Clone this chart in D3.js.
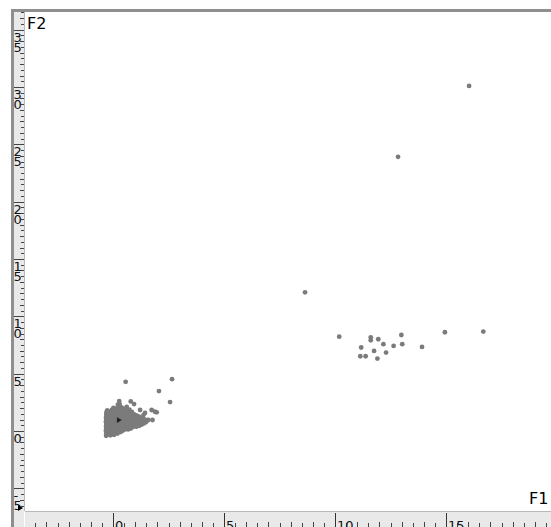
<!DOCTYPE html>
<html>
<head>
<meta charset="utf-8">
<script src="https://cdn.jsdelivr.net/npm/d3@7/dist/d3.min.js"></script>
<style>
  html, body { margin: 0; padding: 0; background: #fff; }
  svg { display: block; }
  text { font-family: "DejaVu Sans", sans-serif; }
</style>
</head>
<body>
<script>
// Scores on the first two factors (F1, F2)
// Dense group near the origin
const coreGroup = [
  [-0.31,-0.42],[-0.12,-0.38],[0.05,-0.33],
  [-0.30,-0.20],[-0.08,-0.18],[0.12,-0.15],[0.31,-0.10],
  [-0.32,0.02],[-0.10,0.00],[0.10,0.03],[0.29,0.05],[0.50,0.10],[0.68,0.14],
  [-0.30,0.22],[-0.11,0.20],[0.09,0.24],[0.30,0.21],[0.48,0.27],[0.70,0.30],[0.88,0.33],[1.05,0.38],
  [-0.31,0.41],[-0.10,0.43],[0.11,0.40],[0.30,0.44],[0.52,0.42],[0.70,0.47],[0.90,0.50],[1.10,0.52],[1.28,0.55],
  [-0.30,0.62],[-0.09,0.60],[0.10,0.63],[0.31,0.60],[0.50,0.64],[0.71,0.62],[0.90,0.68],[1.10,0.70],[1.30,0.72],[1.48,0.76],
  [-0.32,0.80],[-0.10,0.82],[0.12,0.79],[0.30,0.83],[0.49,0.80],[0.70,0.84],[0.91,0.82],[1.12,0.86],[1.32,0.90],[1.55,0.95],
  [-0.30,1.02],[-0.11,1.00],[0.10,1.03],[0.32,1.00],[0.50,1.04],[0.69,1.01],[0.90,1.05],[1.10,1.08],[1.30,1.10],
  [-0.31,1.21],[-0.10,1.20],[0.11,1.23],[0.30,1.20],[0.51,1.22],[0.70,1.25],[0.92,1.24],[1.15,1.28],
  [-0.30,1.42],[-0.09,1.40],[0.10,1.43],[0.31,1.41],[0.50,1.44],[0.72,1.40],[0.95,1.45],[1.37,1.39],
  [-0.30,1.60],[-0.10,1.63],[0.12,1.60],[0.30,1.62],[0.50,1.65],[0.70,1.60],[0.85,1.66],
  [-0.26,1.80],[-0.05,1.84],[0.15,1.80],[0.33,1.85],[0.55,1.82],[0.74,1.86],
  [0.02,2.02],[0.20,2.00],[0.38,2.05],[0.62,2.10],
  [0.22,2.30],[0.30,2.35],[0.28,2.61],[0.80,2.58],[0.95,2.35],
  [1.22,1.83],[1.44,1.57],[1.74,1.83],[1.89,1.68],[1.59,0.96],[1.78,0.96],[1.97,1.63],
  [0.57,4.29],[2.66,4.52],[2.07,3.48],[2.57,2.52]
];
// More observations inside the dense group
const coreGroupInner = [
  [-0.20,-0.30],[0.00,-0.27],[0.20,-0.22],
  [-0.20,-0.10],[0.00,-0.08],[0.20,-0.05],[0.40,-0.02],
  [-0.20,0.10],[0.00,0.12],[0.20,0.10],[0.40,0.14],[0.60,0.18],[0.80,0.22],
  [-0.20,0.31],[0.00,0.30],[0.20,0.33],[0.40,0.30],[0.60,0.35],[0.80,0.38],[1.00,0.42],[1.18,0.46],
  [-0.20,0.50],[0.00,0.52],[0.20,0.50],[0.40,0.53],[0.60,0.51],[0.80,0.56],[1.00,0.60],[1.20,0.62],[1.38,0.65],
  [-0.20,0.70],[0.00,0.72],[0.20,0.70],[0.40,0.73],[0.60,0.71],[0.80,0.75],[1.00,0.76],[1.20,0.80],[1.40,0.84],
  [-0.20,0.91],[0.00,0.90],[0.20,0.92],[0.40,0.90],[0.60,0.93],[0.80,0.92],[1.00,0.95],[1.20,0.98],[1.42,1.02],
  [-0.20,1.10],[0.00,1.12],[0.20,1.10],[0.40,1.13],[0.60,1.11],[0.80,1.14],[1.00,1.16],[1.22,1.19],
  [-0.20,1.31],[0.00,1.30],[0.20,1.33],[0.40,1.30],[0.60,1.32],[0.80,1.35],[1.05,1.36],
  [-0.20,1.50],[0.00,1.52],[0.20,1.50],[0.40,1.53],[0.60,1.51],[0.80,1.55],
  [-0.20,1.70],[0.00,1.72],[0.20,1.70],[0.40,1.73],[0.62,1.71],
  [0.08,1.92],[0.28,1.93],[0.48,1.95]
];
// Second group
const sideGroup = [
  [10.19,8.23],[11.61,8.17],[11.61,7.91],[11.95,8.00],[12.99,8.37],[14.95,8.61],[16.68,8.67],
  [11.18,7.28],[12.18,7.57],[12.64,7.42],[13.03,7.57],[13.92,7.33],[11.76,6.98],[12.30,6.84],
  [11.14,6.52],[11.38,6.52],[11.91,6.32]
];
// Isolated observations
const isolated = [[8.65,12.09],[12.84,23.91],[16.04,30.09]];
// Pointer position inside the dense group
const pointer = [[0.25,0.95]];

const xTickLabels = ["0","5","10","15"];
const yTickLabels = ["-5","0","5","10","15","20","25","30","35"];
const axisNames = { x: "F1", y: "F2" };

const W = 551, H = 527;
const plot = { left: 25, top: 12, right: 551, bottom: 511 };

const x = d3.scaleLinear().domain([0, 15]).range([113, 446]);
const y = d3.scaleLinear().domain([0, 30]).range([431, 87]);

const svg = d3.select("body").append("svg").attr("width", W).attr("height", H);

// frame and rulers
svg.append("rect").attr("x", 11).attr("y", 9).attr("width", W - 11).attr("height", 3).attr("fill", "#8f8f8f");
svg.append("rect").attr("x", 11).attr("y", 9).attr("width", 3).attr("height", H - 9).attr("fill", "#8f8f8f");
svg.append("rect").attr("x", 14).attr("y", 12).attr("width", 10).attr("height", H - 12).attr("fill", "#e9e9e9");
svg.append("line").attr("x1", 24.5).attr("x2", 24.5).attr("y1", 12).attr("y2", plot.bottom).attr("stroke", "#b8b8b8");
svg.append("rect").attr("x", plot.left).attr("y", plot.bottom).attr("width", W - plot.left).attr("height", H - plot.bottom).attr("fill", "#e9e9e9");
svg.append("line").attr("x1", plot.left).attr("x2", W).attr("y1", plot.bottom + 0.5).attr("y2", plot.bottom + 0.5).attr("stroke", "#b8b8b8");

// horizontal ruler ticks
const gx = svg.append("g");
const [xMin, xMax] = [x.invert(plot.left), x.invert(W)];
d3.range(Math.ceil(xMin * 2) / 2, xMax, 0.5).forEach(v => {
  const px = Math.round(x(v)) + 0.5;
  const major = Math.abs(v % 5) < 1e-9;
  const len = major ? 14 : (Math.abs(v % 1) < 1e-9 ? 5 : 4);
  gx.append("line").attr("x1", px).attr("x2", px).attr("y1", H - len).attr("y2", H)
    .attr("stroke", major ? "#333" : "#444").attr("stroke-width", 1);
});
xTickLabels.forEach(t => {
  gx.append("text").attr("x", Math.round(x(+t)) + 2).attr("y", H + 3)
    .attr("font-size", 13).attr("fill", "#111").text(t);
});

// vertical ruler ticks, digits stacked
const gy = svg.append("g");
svg.append("clipPath").attr("id", "vclip").append("rect").attr("x", 14).attr("y", 12).attr("width", 10).attr("height", plot.bottom - 12);
gy.attr("clip-path", "url(#vclip)");
const [yMin, yMax] = [y.invert(plot.bottom), y.invert(plot.top)];
d3.range(Math.ceil(yMin * 2) / 2, yMax, 0.5).forEach(v => {
  const py = Math.round(y(v)) + 0.5;
  const major = Math.abs(v % 5) < 1e-9;
  const len = major ? 10 : (Math.abs(v % 1) < 1e-9 ? 4 : 3);
  gy.append("line").attr("x1", 24 - len).attr("x2", 24).attr("y1", py).attr("y2", py)
    .attr("stroke", "#444").attr("stroke-width", 1);
});
yTickLabels.forEach(t => {
  const top = Math.round(y(+t));
  t.split("").forEach((ch, i) => {
    gy.append("text").attr("x", 13.5).attr("y", top + 12 + i * 10)
      .attr("font-size", 13).attr("fill", "#111").text(ch);
  });
});
// ruler pointer marker
gy.append("path").attr("d", "M18,505 L23,508 L18,511 Z").attr("fill", "#000");

// points
svg.append("clipPath").attr("id", "pclip").append("rect")
  .attr("x", plot.left).attr("y", plot.top).attr("width", W - plot.left).attr("height", plot.bottom - plot.top);
const gp = svg.append("g").attr("clip-path", "url(#pclip)");
const all = coreGroup.concat(coreGroupInner, sideGroup, isolated);
gp.selectAll("circle.pt").data(all).join("circle").attr("class", "pt")
  .attr("cx", d => x(d[0])).attr("cy", d => y(d[1])).attr("r", 2.4).attr("fill", "#7b7b7b");
gp.selectAll("path.ptr").data(pointer).join("path").attr("class", "ptr")
  .attr("transform", d => `translate(${x(d[0])},${y(d[1])}) rotate(90)`)
  .attr("d", d3.symbol(d3.symbolTriangle, 14)).attr("fill", "#222");

// axis names
svg.append("text").attr("x", 27).attr("y", 29).attr("font-size", 16).attr("fill", "#000").text(axisNames.y);
svg.append("text").attr("x", 529).attr("y", 504).attr("font-size", 16).attr("fill", "#000").text(axisNames.x);
</script>
</body>
</html>
